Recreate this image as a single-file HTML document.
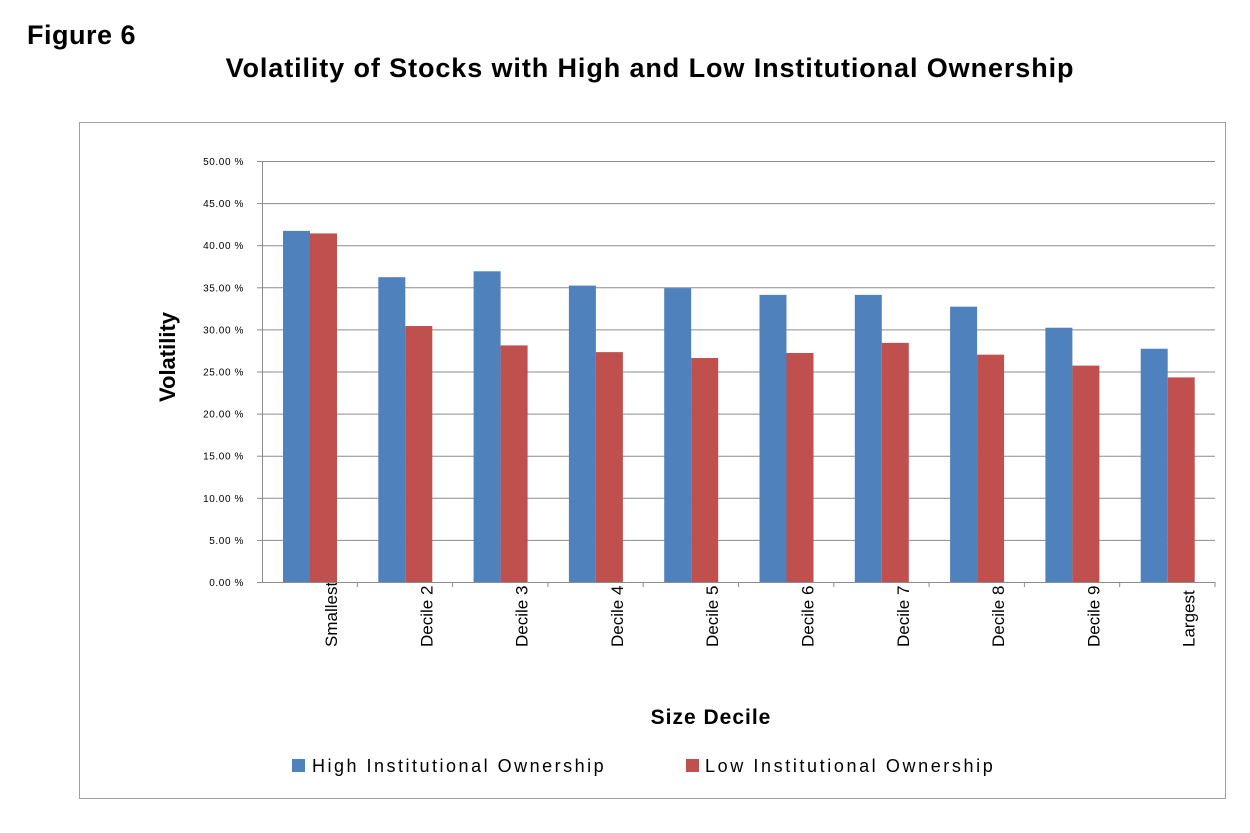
<!DOCTYPE html>
<html><head><meta charset="utf-8"><style>
body{margin:0;background:#fff;font-family:"Liberation Sans",Arial,sans-serif}
</style></head><body>
<svg id="c" width="1250" height="828" xmlns="http://www.w3.org/2000/svg" font-family="Liberation Sans, Arial, sans-serif">
<text x="27" y="44" font-size="27" font-weight="bold" letter-spacing="0.5">Figure 6</text>
<text x="650" y="77" font-size="27" font-weight="bold" text-anchor="middle" letter-spacing="0.9">Volatility of Stocks with High and Low Institutional Ownership</text>
<rect x="79.5" y="122.5" width="1146" height="676" fill="none" stroke="#a0a0a0"/>
<g id="grid"></g><g id="bars"></g><g id="axes"></g>
<text transform="translate(175,357) rotate(-90)" font-size="22" font-weight="bold" text-anchor="middle">Volatility</text>
<text x="711" y="724" font-size="21" font-weight="bold" text-anchor="middle" letter-spacing="1">Size Decile</text>
<g>
<rect x="292" y="759" width="13" height="13" fill="#4f81bd"/>
<text x="312" y="772" font-size="18" letter-spacing="2.5">High Institutional Ownership</text>
<rect x="686" y="759" width="13" height="13" fill="#c0504d"/>
<text x="705" y="772" font-size="18" letter-spacing="2.6">Low Institutional Ownership</text>
</g>
</svg>
<script>
const categories=["Smallest","Decile 2","Decile 3","Decile 4","Decile 5","Decile 6","Decile 7","Decile 8","Decile 9","Largest"];
const highValues=[41.7,36.2,36.9,35.2,34.9,34.1,34.1,32.7,30.2,27.7];
const lowValues=[41.4,30.4,28.1,27.3,26.6,27.2,28.4,27.0,25.7,24.3];
const yTicks=[0,5,10,15,20,25,30,35,40,45,50];
const tickLabels=["0.00 %","5.00 %","10.00 %","15.00 %","20.00 %","25.00 %","30.00 %","35.00 %","40.00 %","45.00 %","50.00 %"];
const NS="http://www.w3.org/2000/svg";
const x0=262,x1=1215,y0=582,y1=161;
const bw=(x1-x0)/categories.length;
function y(v){return y0-(v/50)*(y0-y1);}
function xc(i){return x0+i*bw;}
function mk(t,a,p){const e=document.createElementNS(NS,t);for(const k in a)e.setAttribute(k,a[k]);p.appendChild(e);return e;}
const g=document.getElementById('grid'),b=document.getElementById('bars'),ax=document.getElementById('axes');
yTicks.forEach((v,i)=>{
 const l=mk('line',{x1:x0,x2:x1,y1:y(v)+.5,y2:y(v)+.5,stroke:'#8c8c8c'},g);
 
 
 const tk=mk('line',{x1:x0-5,x2:x0,y1:y(v)+.5,y2:y(v)+.5,stroke:'#8c8c8c'},ax);
 
 
 const t=mk('text',{x:x0-18,y:y(v)+4,'font-size':10,'text-anchor':'end','letter-spacing':'0.6'},ax);
 t.textContent=tickLabels[i];
 
 
});
const ya=mk('line',{x1:x0+.5,x2:x0+.5,y1:y1,y2:y0,stroke:'#8c8c8c'},ax);


categories.forEach((c,i)=>{
 const bx=xc(i)+21,w=27;
 const r1=mk('rect',{x:bx,y:y(highValues[i]),width:w,height:y0-y(highValues[i]),fill:'#4f81bd'},b);
 
 
 const r2=mk('rect',{x:bx+w,y:y(lowValues[i]),width:w,height:y0-y(lowValues[i]),fill:'#c0504d'},b);
 
 
 const tk=mk('line',{x1:xc(i+1),x2:xc(i+1),y1:y0,y2:y0+5,stroke:'#8c8c8c'},ax);
 
 
 const t=mk('text',{transform:`translate(${xc(i)+75},647) rotate(-90)`,'font-size':17},ax);
 t.textContent=c;
 
 
});
const xa=mk('line',{x1:x0,x2:x1,y1:y0+.5,y2:y0+.5,stroke:'#8c8c8c'},ax);


</script>
</body></html>
